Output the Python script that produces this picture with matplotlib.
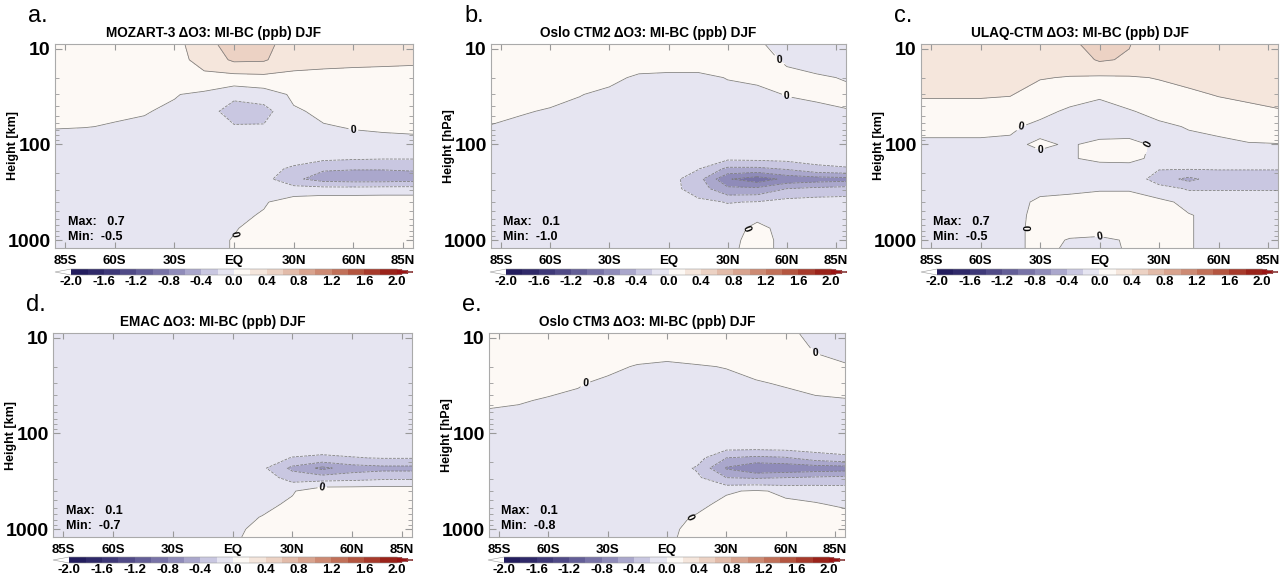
import numpy as np
import matplotlib
matplotlib.use("Agg")
import matplotlib.pyplot as plt
from matplotlib.colors import ListedColormap
from matplotlib.ticker import LogLocator, NullFormatter

plt.rcParams['font.family'] = ['Liberation Sans', 'DejaVu Sans']

# grid: latitude columns, pressure rows (hPa)
LAT = [-90, -75, -60, -45, -30, -15, 0, 15, 30, 45, 60, 75, 90]
LEV = [8.5, 13, 20, 30, 45, 65, 100, 140, 180, 230, 290, 400, 550, 750, 1000, 1250]

LAT_TICKS = [-85, -60, -30, 0, 30, 60, 85]
LAT_LABELS = ["85S", "60S", "30S", "EQ", "30N", "60N", "85N"]
CB_TICKS = [-2.0, -1.6, -1.2, -0.8, -0.4, 0.0, 0.4, 0.8, 1.2, 1.6, 2.0]

# delta O3 (ppb), one row per level in LEV
MOZART3 = [
    [0.10, 0.10, 0.10, 0.10, 0.15, 0.30, 0.55, 0.47, 0.30, 0.30, 0.30, 0.30, 0.30],
    [0.10, 0.10, 0.10, 0.10, 0.12, 0.28, 0.43, 0.42, 0.28, 0.26, 0.25, 0.24, 0.23],
    [0.08, 0.08, 0.08, 0.08, 0.10, 0.14, 0.12, 0.14, 0.14, 0.13, 0.12, 0.12, 0.12],
    [0.05, 0.05, 0.04, 0.03, 0.01, -0.04, -0.15, -0.10, 0.03, 0.05, 0.06, 0.06, 0.06],
    [0.04, 0.03, 0.02, 0.01, -0.03, -0.10, -0.30, -0.28, -0.02, 0.03, 0.04, 0.04, 0.05],
    [0.01, 0.005, -0.01, -0.03, -0.08, -0.10, -0.18, -0.18, -0.06, -0.01, 0.01, 0.02, 0.03],
    [-0.08, -0.10, -0.10, -0.10, -0.10, -0.10, -0.10, -0.10, -0.10, -0.08, -0.06, -0.05, -0.05],
    [-0.08, -0.10, -0.10, -0.10, -0.10, -0.10, -0.10, -0.10, -0.12, -0.16, -0.18, -0.19, -0.19],
    [-0.08, -0.10, -0.10, -0.10, -0.10, -0.10, -0.10, -0.12, -0.24, -0.38, -0.39, -0.39, -0.38],
    [-0.08, -0.10, -0.10, -0.10, -0.10, -0.10, -0.10, -0.13, -0.36, -0.48, -0.50, -0.50, -0.48],
    [-0.08, -0.10, -0.10, -0.10, -0.10, -0.10, -0.10, -0.10, -0.12, -0.13, -0.13, -0.12, -0.12],
    [-0.08, -0.10, -0.10, -0.10, -0.10, -0.10, -0.08, -0.02, 0.10, 0.15, 0.15, 0.15, 0.15],
    [-0.08, -0.10, -0.10, -0.10, -0.10, -0.08, -0.05, 0.02, 0.10, 0.12, 0.12, 0.12, 0.12],
    [-0.08, -0.10, -0.10, -0.10, -0.10, -0.08, -0.01, 0.05, 0.08, 0.10, 0.10, 0.10, 0.10],
    [-0.08, -0.10, -0.10, -0.10, -0.10, -0.06, 0.01, 0.05, 0.08, 0.10, 0.10, 0.10, 0.10],
    [-0.08, -0.10, -0.10, -0.10, -0.10, -0.06, 0.01, 0.05, 0.08, 0.10, 0.10, 0.10, 0.10],
]

OSLO_CTM2 = [
    [0.05, 0.05, 0.05, 0.05, 0.05, 0.05, 0.05, 0.05, 0.04, 0.01, -0.04, -0.05, -0.05],
    [0.05, 0.05, 0.05, 0.05, 0.06, 0.06, 0.06, 0.06, 0.05, 0.03, -0.01, -0.03, -0.04],
    [0.05, 0.05, 0.05, 0.04, 0.03, -0.02, -0.03, -0.03, 0.005, 0.02, 0.02, 0.01, -0.005],
    [0.04, 0.04, 0.03, 0.005, -0.03, -0.05, -0.06, -0.06, -0.04, -0.03, 0.005, 0.02, 0.02],
    [0.03, 0.01, -0.01, -0.04, -0.06, -0.07, -0.08, -0.08, -0.07, -0.06, -0.05, -0.03, -0.005],
    [-0.005, -0.03, -0.05, -0.07, -0.08, -0.08, -0.08, -0.08, -0.08, -0.08, -0.07, -0.06, -0.05],
    [-0.06, -0.07, -0.08, -0.08, -0.08, -0.08, -0.08, -0.08, -0.08, -0.08, -0.08, -0.08, -0.08],
    [-0.06, -0.07, -0.08, -0.08, -0.08, -0.08, -0.08, -0.10, -0.16, -0.15, -0.14, -0.12, -0.12],
    [-0.06, -0.07, -0.08, -0.08, -0.08, -0.08, -0.10, -0.19, -0.45, -0.45, -0.38, -0.26, -0.22],
    [-0.06, -0.07, -0.08, -0.08, -0.08, -0.08, -0.12, -0.32, -0.78, -0.92, -0.74, -0.70, -0.68],
    [-0.06, -0.07, -0.08, -0.08, -0.08, -0.08, -0.12, -0.30, -0.55, -0.55, -0.40, -0.35, -0.32],
    [-0.06, -0.07, -0.08, -0.08, -0.08, -0.08, -0.09, -0.15, -0.21, -0.19, -0.12, -0.10, -0.10],
    [-0.06, -0.07, -0.08, -0.08, -0.08, -0.08, -0.08, -0.10, -0.10, -0.03, -0.06, -0.06, -0.06],
    [-0.06, -0.07, -0.08, -0.08, -0.08, -0.08, -0.06, -0.05, -0.05, 0.03, -0.04, -0.05, -0.05],
    [-0.06, -0.07, -0.08, -0.08, -0.08, -0.06, -0.05, -0.04, -0.04, 0.05, -0.04, -0.05, -0.05],
    [-0.06, -0.07, -0.08, -0.08, -0.08, -0.06, -0.05, -0.03, -0.03, 0.05, -0.04, -0.05, -0.05],
]

ULAQ_CTM = [
    [0.25, 0.25, 0.25, 0.25, 0.25, 0.36, 0.50, 0.41, 0.30, 0.28, 0.28, 0.28, 0.28],
    [0.25, 0.25, 0.25, 0.25, 0.25, 0.30, 0.42, 0.38, 0.28, 0.26, 0.26, 0.26, 0.26],
    [0.25, 0.25, 0.25, 0.25, 0.21, 0.19, 0.17, 0.18, 0.21, 0.24, 0.25, 0.25, 0.25],
    [0.22, 0.22, 0.22, 0.21, 0.12, 0.07, 0.02, 0.06, 0.12, 0.17, 0.21, 0.23, 0.24],
    [0.12, 0.12, 0.12, 0.10, 0.05, -0.03, -0.06, -0.01, 0.04, 0.06, 0.12, 0.16, 0.19],
    [0.04, 0.04, 0.04, 0.03, -0.05, -0.08, -0.10, -0.08, -0.03, 0.01, 0.04, 0.06, 0.07],
    [-0.03, -0.03, -0.03, -0.04, 0.03, -0.02, 0.05, 0.05, -0.03, -0.05, -0.04, -0.01, -0.005],
    [-0.08, -0.08, -0.08, -0.08, -0.06, -0.02, 0.05, 0.05, -0.05, -0.08, -0.08, -0.08, -0.08],
    [-0.08, -0.08, -0.08, -0.08, -0.08, -0.08, -0.10, -0.08, -0.19, -0.19, -0.19, -0.19, -0.19],
    [-0.08, -0.08, -0.08, -0.08, -0.08, -0.08, -0.08, -0.06, -0.30, -0.45, -0.30, -0.30, -0.30],
    [-0.08, -0.08, -0.08, -0.08, -0.05, -0.03, -0.01, -0.01, -0.12, -0.22, -0.22, -0.22, -0.22],
    [-0.08, -0.08, -0.08, -0.08, 0.04, 0.05, 0.05, 0.05, 0.05, -0.05, -0.06, -0.06, -0.06],
    [-0.08, -0.08, -0.08, -0.06, 0.05, 0.06, 0.05, 0.05, 0.06, 0.01, -0.05, -0.05, -0.05],
    [-0.08, -0.08, -0.08, -0.05, 0.05, 0.05, 0.04, 0.05, 0.06, 0.01, -0.05, -0.05, -0.05],
    [-0.08, -0.08, -0.08, -0.05, 0.05, -0.01, -0.02, 0.01, 0.06, 0.01, -0.05, -0.05, -0.05],
    [-0.08, -0.08, -0.08, -0.05, 0.05, -0.03, -0.03, 0.01, 0.06, 0.01, -0.05, -0.05, -0.05],
]

EMAC = [
    [-0.08, -0.08, -0.08, -0.08, -0.08, 0.008, -0.08, -0.08, -0.08, -0.08, -0.08, -0.08, -0.08],
    [-0.08, -0.08, -0.08, -0.08, -0.08, -0.08, -0.08, -0.08, -0.08, -0.08, -0.08, -0.08, -0.08],
    [-0.08, -0.08, -0.09, -0.09, -0.09, -0.09, -0.09, -0.09, -0.09, -0.09, -0.08, -0.08, -0.08],
    [-0.08, -0.09, -0.09, -0.10, -0.10, -0.10, -0.10, -0.10, -0.10, -0.09, -0.09, -0.08, -0.08],
    [-0.09, -0.09, -0.10, -0.10, -0.10, -0.10, -0.10, -0.10, -0.10, -0.10, -0.09, -0.09, -0.09],
    [-0.09, -0.09, -0.10, -0.10, -0.10, -0.10, -0.10, -0.10, -0.10, -0.10, -0.10, -0.09, -0.09],
    [-0.09, -0.09, -0.10, -0.10, -0.10, -0.10, -0.10, -0.10, -0.10, -0.10, -0.10, -0.10, -0.10],
    [-0.08, -0.08, -0.08, -0.08, -0.08, -0.08, -0.08, -0.09, -0.10, -0.12, -0.12, -0.12, -0.12],
    [-0.08, -0.08, -0.08, -0.08, -0.08, -0.08, -0.08, -0.10, -0.21, -0.24, -0.21, -0.19, -0.19],
    [-0.08, -0.08, -0.08, -0.08, -0.08, -0.08, -0.08, -0.16, -0.45, -0.65, -0.50, -0.46, -0.46],
    [-0.08, -0.08, -0.08, -0.08, -0.08, -0.08, -0.08, -0.10, -0.28, -0.30, -0.28, -0.25, -0.25],
    [-0.08, -0.08, -0.08, -0.08, -0.08, -0.08, -0.08, -0.06, -0.02, 0.15, 0.15, 0.15, 0.15],
    [-0.08, -0.08, -0.08, -0.08, -0.08, -0.08, -0.08, -0.06, 0.04, 0.12, 0.12, 0.12, 0.12],
    [-0.08, -0.08, -0.08, -0.08, -0.08, -0.08, -0.08, 0.01, 0.08, 0.10, 0.10, 0.10, 0.10],
    [-0.08, -0.08, -0.08, -0.08, -0.08, -0.08, -0.04, 0.05, 0.08, 0.10, 0.10, 0.10, 0.10],
    [-0.08, -0.08, -0.08, -0.08, -0.08, -0.08, -0.02, 0.05, 0.08, 0.10, 0.10, 0.10, 0.10],
]

OSLO_CTM3 = [
    [0.05, 0.05, 0.05, 0.05, 0.05, 0.05, 0.05, 0.05, 0.05, 0.04, 0.02, -0.03, -0.05],
    [0.05, 0.05, 0.05, 0.05, 0.06, 0.06, 0.06, 0.06, 0.05, 0.04, 0.03, -0.005, -0.03],
    [0.05, 0.05, 0.05, 0.04, 0.03, -0.01, -0.03, -0.01, 0.005, 0.03, 0.03, 0.02, 0.01],
    [0.04, 0.04, 0.03, 0.01, -0.03, -0.05, -0.06, -0.06, -0.04, -0.01, 0.01, 0.02, 0.03],
    [0.02, 0.01, -0.01, -0.03, -0.06, -0.07, -0.08, -0.08, -0.07, -0.06, -0.04, -0.01, -0.005],
    [-0.02, -0.03, -0.05, -0.07, -0.08, -0.08, -0.08, -0.08, -0.08, -0.08, -0.07, -0.06, -0.05],
    [-0.06, -0.07, -0.08, -0.08, -0.08, -0.08, -0.08, -0.08, -0.08, -0.08, -0.08, -0.08, -0.08],
    [-0.06, -0.07, -0.08, -0.08, -0.08, -0.08, -0.08, -0.09, -0.14, -0.14, -0.13, -0.12, -0.12],
    [-0.06, -0.07, -0.08, -0.08, -0.08, -0.08, -0.08, -0.12, -0.40, -0.45, -0.42, -0.30, -0.24],
    [-0.06, -0.07, -0.08, -0.08, -0.08, -0.08, -0.09, -0.22, -0.62, -0.78, -0.75, -0.72, -0.70],
    [-0.06, -0.07, -0.08, -0.08, -0.08, -0.08, -0.09, -0.16, -0.40, -0.42, -0.40, -0.37, -0.35],
    [-0.06, -0.07, -0.08, -0.08, -0.08, -0.08, -0.08, -0.08, -0.02, 0.02, -0.03, -0.05, -0.08],
    [-0.06, -0.07, -0.08, -0.08, -0.08, -0.08, -0.08, -0.05, 0.05, 0.06, 0.03, 0.01, -0.02],
    [-0.06, -0.07, -0.08, -0.08, -0.08, -0.08, -0.06, 0.02, 0.06, 0.07, 0.06, 0.05, 0.05],
    [-0.06, -0.07, -0.08, -0.08, -0.08, -0.06, -0.03, 0.04, 0.06, 0.07, 0.06, 0.05, 0.05],
    [-0.06, -0.07, -0.08, -0.08, -0.08, -0.06, -0.02, 0.04, 0.06, 0.07, 0.06, 0.05, 0.05],
]

# letter, title, y label, field, max, min, axes (x, y, w) and colorbar (x, y, w) in pixels
PANELS = [
    ("a.", "MOZART-3 \u0394O3: MI-BC (ppb) DJF", "Height [km]", MOZART3, "0.7", "-0.5",
     (55, 44, 358), (55, 269, 358)),
    ("b.", "Oslo CTM2 \u0394O3: MI-BC (ppb) DJF", "Height [hPa]", OSLO_CTM2, "0.1", "-1.0",
     (491, 44, 355), (490, 269, 357)),
    ("c.", "ULAQ-CTM \u0394O3: MI-BC (ppb) DJF", "Height [km]", ULAQ_CTM, "0.7", "-0.5",
     (921, 44, 357), (921, 269, 357)),
    ("d.", "EMAC \u0394O3: MI-BC (ppb) DJF", "Height [km]", EMAC, "0.1", "-0.7",
     (53, 333, 359), (53, 557, 360)),
    ("e.", "Oslo CTM3 \u0394O3: MI-BC (ppb) DJF", "Height [hPa]", OSLO_CTM3, "0.1", "-0.8",
     (489, 333, 356), (488, 557, 357)),
]

FILL_COLORS = [
    '#231d5e', '#2f2969', '#3e3878', '#504a87', '#635e97',
    '#7873a7', '#8f8bb9', '#aaa7cc', '#c9c7e1', '#e6e5f1',
    '#fdf9f5', '#f5e6dc', '#ecd2c4', '#e2bba9', '#d8a38e',
    '#cd8a73', '#c17058', '#b4553f', '#a73a2b', '#9a2219',
]
cmap = ListedColormap(FILL_COLORS)
cmap.set_under('white')
cmap.set_over('#9a1414')
clevels = np.round(np.linspace(-2.0, 2.0, 21), 1)

W, H = 1287, 578
AX_H = 204
fig = plt.figure(figsize=(W / 100, H / 100), dpi=100)


def px_box(x, y, w, h):
    return [x / W, 1 - (y + h) / H, w / W, h / H]


lat = np.array(LAT)
lev = np.array(LEV)
line_col = '#7a7a7a'

for letter, title, ylab, field, vmax, vmin, axpos, cbpos in PANELS:
    x0, y0, w = axpos
    ax = fig.add_axes(px_box(x0, y0, w, AX_H))
    z = np.array(field)
    cf = ax.contourf(lat, lev, z, levels=clevels, cmap=cmap, extend='both')
    cs = ax.contour(lat, lev, z, levels=clevels, colors=line_col, linewidths=0.55)
    zero = [lv for lv in cs.levels if abs(lv) < 1e-9]
    labs = ax.clabel(cs, levels=zero, fmt=lambda v: '0', fontsize=7.5, inline=True, inline_spacing=2)
    for t in labs:
        t.set_fontweight('bold')
        t.set_color('black')

    ax.set_yscale('log')
    ax.set_ylim(1210, 8.9)
    ax.set_xlim(-90, 90)
    ax.set_xticks(LAT_TICKS)
    ax.set_xticklabels(LAT_LABELS)
    ax.set_yticks([10, 100, 1000])
    ax.set_yticklabels(['10', '100', '1000'])
    ax.yaxis.set_minor_locator(LogLocator(base=10, subs=np.arange(2, 10)))
    ax.yaxis.set_minor_formatter(NullFormatter())
    ax.tick_params(which='both', direction='in', top=True, right=True, color='#999999')
    ax.tick_params(axis='x', length=4, pad=5, labelsize=9.5)
    ax.tick_params(axis='y', which='major', length=5, pad=3, labelsize=14)
    ax.tick_params(axis='y', which='minor', length=3)
    for lab in ax.get_xticklabels() + ax.get_yticklabels():
        lab.set_fontweight('bold')
    for sp in ax.spines.values():
        sp.set_color('#aaaaaa')
        sp.set_linewidth(0.8)

    ax.text(0.035, 0.127, "Max:   " + vmax, transform=ax.transAxes, fontsize=9,
            fontweight='bold', va='center')
    ax.text(0.035, 0.054, "Min:  " + vmin, transform=ax.transAxes, fontsize=9,
            fontweight='bold', va='center')

    # title, panel letter, y label
    fig.text((x0 + w / 2 - 20) / W, 1 - (y0 - 7) / H, title, ha='center', va='baseline',
             fontsize=9.8, fontweight='bold')
    fig.text((x0 - 27) / W, 1 - (y0 - 22) / H, letter, ha='left', va='baseline', fontsize=17)
    fig.text((x0 - 42) / W, 1 - (y0 + AX_H / 2) / H, ylab, rotation=90, ha='center',
             va='center', fontsize=9, fontweight='bold')

    cx, cy, cw = cbpos
    cax = fig.add_axes(px_box(cx, cy, cw, 6))
    cb = fig.colorbar(cf, cax=cax, orientation='horizontal', ticks=CB_TICKS,
                      format='%.1f', extendfrac=0.05, drawedges=False)
    cb.outline.set_edgecolor('#999999')
    cb.outline.set_linewidth(0.4)
    cb.ax.tick_params(length=0, pad=1, labelsize=9.5)
    for lab in cb.ax.get_xticklabels():
        lab.set_fontweight('bold')

fig.savefig("out.png", dpi=100, facecolor='white')
